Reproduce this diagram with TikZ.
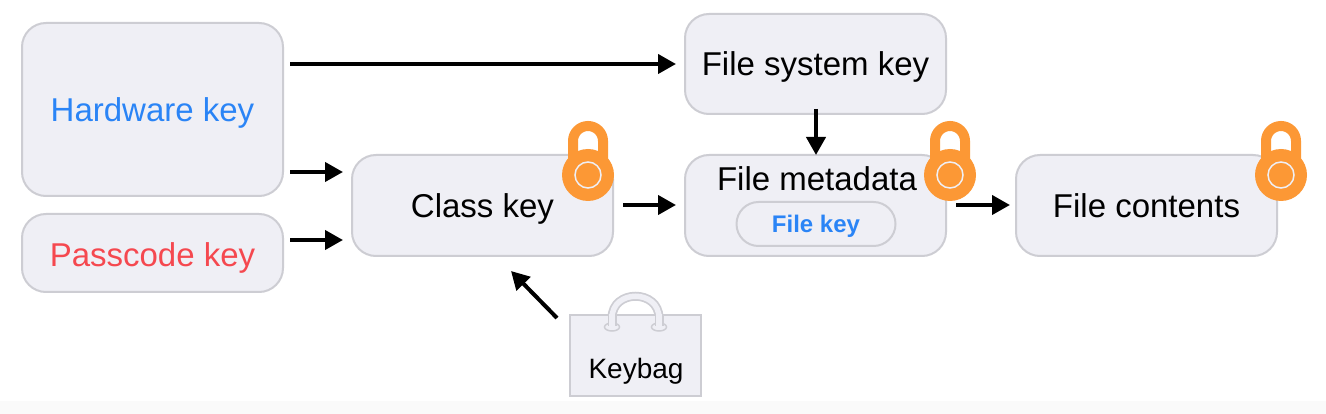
\documentclass[tikz,border=0pt]{standalone}
\usepackage{fontspec}
\setmainfont{Liberation Sans}
\usetikzlibrary{arrows.meta}
\definecolor{boxfill}{HTML}{EFEFF5}
\definecolor{boxline}{HTML}{CDCDD3}
\definecolor{keyblue}{HTML}{2A84F6}
\definecolor{keyred}{HTML}{F5484F}
\definecolor{lockorange}{HTML}{FC9835}
\tikzset{
  x=1pt,y=-1pt,
  keybox/.style={draw=boxline,fill=boxfill,line width=2pt,rounded corners=24pt,inner sep=0pt,minimum width=261pt,font=\fontsize{33}{36}\selectfont,text height=24pt,text depth=0pt},
  pill/.style={draw=boxline,fill=boxfill,line width=2pt,rounded corners=22pt,inner sep=0pt,minimum width=159pt,minimum height=44pt,font=\bfseries\fontsize{24}{28}\selectfont,text=keyblue,text height=17pt,text depth=0pt},
  label/.style={inner sep=0pt,font=\fontsize{33}{36}\selectfont,text height=24pt,text depth=0pt},
  arr/.style={draw=black,line width=4pt,-{Triangle[length=18pt,width=19pt]}},
  padlock/.pic={
    \draw[lockorange,line width=10pt] (-15,0) -- (-15,-34) arc[start angle=180,end angle=360,radius=15] -- (15,0);
    \fill[lockorange] (0,0) circle[radius=26];
    \draw[boxfill,line width=1.5pt] (0,0) circle[radius=13];
  }
}
\begin{document}
\begin{tikzpicture}
\useasboundingbox (0,0) rectangle (1326,414);
\fill[white] (0,0) rectangle (1326,414);
\fill[black!2] (0,401) rectangle (1326,414);
% boxes
\node[keybox,minimum height=173pt,text=keyblue] (hw) at (152.5,109.5) {Hardware key};
\node[keybox,minimum height=78pt,text=keyred,text height=28pt] (pass) at (152.5,253) {Passcode key};
\node[keybox,minimum height=101pt] (class) at (482.5,205.5) {Class key};
\node[keybox,minimum height=100pt] (fs) at (815.5,64) {File system key};
\node[keybox,minimum height=101pt] (meta) at (815.5,205.5) {};
\node[label] (metatext) at (817,178.5) {File metadata};
\node[pill] (filekey) at (816,224) {File key};
\node[keybox,minimum height=101pt] (contents) at (1146.5,205.5) {File contents};
% keybag
\draw[boxline,line width=9pt] (612,327) -- (612,318) .. controls (612,289) and (659,289) .. (659,318) -- (659,327);
\draw[boxfill,line width=5.5pt] (612,327) -- (612,318) .. controls (612,289) and (659,289) .. (659,318) -- (659,327);
\node[draw=boxline,fill=boxfill,line width=2pt,minimum width=131pt,minimum height=81pt,inner sep=0pt] (bag) at (635.5,355.5) {};
\draw[boxline,fill=boxfill,line width=1.5pt] (612,327) ellipse[x radius=7.5,y radius=4];
\draw[boxline,fill=boxfill,line width=1.5pt] (659,327) ellipse[x radius=7.5,y radius=4];
\draw[boxline,line width=9pt] (612,314) -- (612,326);
\draw[boxline,line width=9pt] (659,314) -- (659,326);
\draw[boxfill,line width=5.5pt] (612,314) -- (612,327);
\draw[boxfill,line width=5.5pt] (659,314) -- (659,327);
\node[inner sep=0pt,font=\fontsize{28}{32}\selectfont] (bagtext) at (636,371) {Keybag};
% locks
\pic at (588,175) {padlock};
\pic at (950,175) {padlock};
\pic at (1281,175) {padlock};
% connector ends
\coordinate (hwA) at (290,64);
\coordinate (hwB) at (290,172);
\coordinate (classB) at (343,172);
\coordinate (passA) at (290,240);
\coordinate (classC) at (343,240);
\coordinate (fsOut) at (816,109);
\coordinate (metaIn) at (816,155);
\coordinate (fsIn) at (676,64);
\coordinate (classOut) at (623,205);
\coordinate (metaW) at (676,205);
\coordinate (metaOut) at (956,205);
\coordinate (contW) at (1010,205);
\coordinate (bagOut) at (557,318);
\coordinate (classS) at (511,271);
% connectors
\draw[arr] (hwA) -- (fsIn);
\draw[arr] (hwB) -- (classB);
\draw[arr] (passA) -- (classC);
\draw[arr] (fsOut) -- (metaIn);
\draw[arr] (classOut) -- (metaW);
\draw[arr] (metaOut) -- (contW);
\draw[arr] (bagOut) -- (classS);
\end{tikzpicture}
\end{document}
